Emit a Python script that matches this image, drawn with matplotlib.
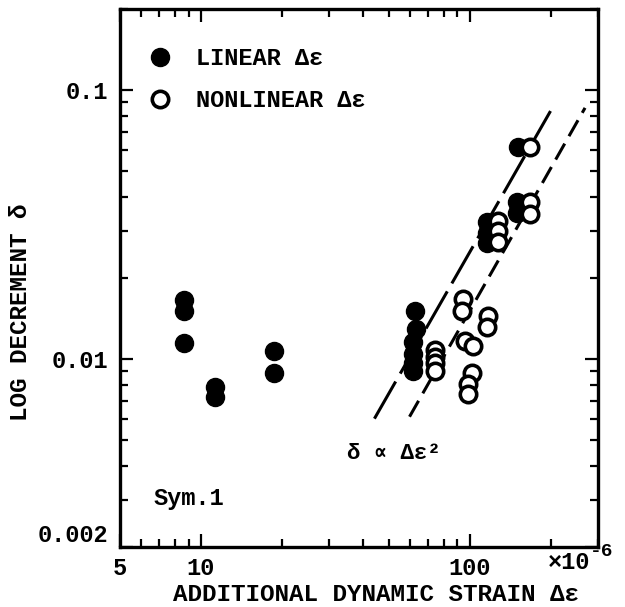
import matplotlib
matplotlib.use('Agg')
import matplotlib.pyplot as plt
from matplotlib.ticker import LogLocator, NullFormatter, FixedLocator, FixedFormatter

# strain amplitude (x1e-6) and log decrement
lin_x = [8.64, 8.64, 8.64, 11.25, 11.25, 18.7, 18.7,
         62.4, 63.0, 61.3, 61.3, 61.3, 61.3,
         115.7, 115.7, 115.7, 149.8, 149.8, 151.0]
lin_y = [0.0165, 0.0151, 0.0115, 0.0079, 0.0072, 0.0107, 0.0089,
         0.0151, 0.0129, 0.0116, 0.0104, 0.0097, 0.0090,
         0.0324, 0.0295, 0.0271, 0.0382, 0.0349, 0.0615]

nonlin_x = [74.0, 74.0, 74.0, 74.0, 94.2, 93.4, 116.7, 115.7, 95.8, 102.6,
            101.7, 98.5, 98.5, 127.2, 127.2, 127.2, 167.5, 167.5, 167.5]
nonlin_y = [0.0108, 0.0102, 0.0097, 0.0090, 0.0167, 0.0151, 0.0144, 0.0131,
            0.0117, 0.0112, 0.0089, 0.0081, 0.0074, 0.0326, 0.0298, 0.0273,
            0.0382, 0.0345, 0.0615]

# square-law guide lines
guide_lin_x = [44.2, 201.8]
guide_lin_y = [0.0060, 0.0850]
guide_nl_x = [59.7, 268.5]
guide_nl_y = [0.0061, 0.0858]

xticks = [5, 10, 100]
xlabels = ['5', '10', '100']
yticks = [0.002, 0.01, 0.1]
ylabels = ['0.002', '0.01', '0.1']

plt.rcParams['font.family'] = ['Liberation Mono', 'DejaVu Sans Mono']
plt.rcParams['font.weight'] = 'bold'
plt.rcParams['axes.labelweight'] = 'bold'
plt.rcParams['font.size'] = 17

fig = plt.figure(figsize=(6.25, 6.07), dpi=100)
ax = fig.add_axes([120/625, 60/607, 478/625, 538/607])
ax.set_xscale('log')
ax.set_yscale('log')
ax.set_xlim(5, 300)
ax.set_ylim(0.002, 0.2)

lw = 2.2
ax.plot(guide_lin_x, guide_lin_y, color='black', lw=lw, dashes=(14, 3), zorder=2)
ax.plot(guide_nl_x, guide_nl_y, color='black', lw=lw, dashes=(6, 2.8), zorder=2)

ax.plot(lin_x, lin_y, 'o', color='black', ms=13, mew=1, ls='none',
        zorder=3, label='LINEAR \u0394\u03b5')
ax.plot(nonlin_x, nonlin_y, 'o', mfc='white', mec='black', ms=11.8, mew=2.6,
        ls='none', zorder=4, label='NONLINEAR \u0394\u03b5')

ax.legend(loc='upper left', bbox_to_anchor=(0.06, 0.929), frameon=False,
          borderpad=0, borderaxespad=0, handlelength=1.0, handletextpad=1.0,
          labelspacing=0.8, numpoints=1, fontsize=17)

ax.text(6.68, 0.00303, 'Sym.1', ha='left', va='center', fontsize=17)
ax.text(34.8, 0.00445, '\u03b4 \u221d \u0394\u03b5\u00b2', ha='left', va='center',
        fontsize=16)

ax.text(0.895, -0.028, '\u00d710', transform=ax.transAxes, ha='left',
        va='center', fontsize=17, clip_on=False)
ax.text(0.982, -0.009, '-6', transform=ax.transAxes, ha='left',
        va='center', fontsize=14, clip_on=False)

ax.xaxis.set_major_locator(FixedLocator(xticks))
ax.xaxis.set_major_formatter(FixedFormatter(xlabels))
ax.xaxis.set_minor_locator(LogLocator(base=10, subs=range(2, 10)))
ax.xaxis.set_minor_formatter(NullFormatter())
ax.yaxis.set_major_locator(FixedLocator(yticks))
ax.yaxis.set_major_formatter(FixedFormatter(ylabels))
ax.yaxis.set_minor_locator(LogLocator(base=10, subs=range(2, 10)))
ax.yaxis.set_minor_formatter(NullFormatter())

ax.tick_params(which='both', direction='in', top=True, right=True, width=1.6)
ax.tick_params(which='major', length=9.5)
ax.tick_params(which='minor', length=6)
ax.tick_params(axis='x', pad=7, labelsize=17)
ax.tick_params(axis='y', pad=8.5, labelsize=17)
for spine in ax.spines.values():
    spine.set_linewidth(2.4)

fig.canvas.draw()
ax.get_yticklabels()[0].set_va('bottom')

ax.set_xlabel('ADDITIONAL DYNAMIC STRAIN \u0394\u03b5', fontsize=17.5)
ax.xaxis.set_label_coords(0.536, -0.066)
ax.set_ylabel('LOG DECREMENT \u03b4', fontsize=17.5)
ax.yaxis.set_label_coords(-0.184, 0.437)

fig.savefig('out.png', dpi=100)
